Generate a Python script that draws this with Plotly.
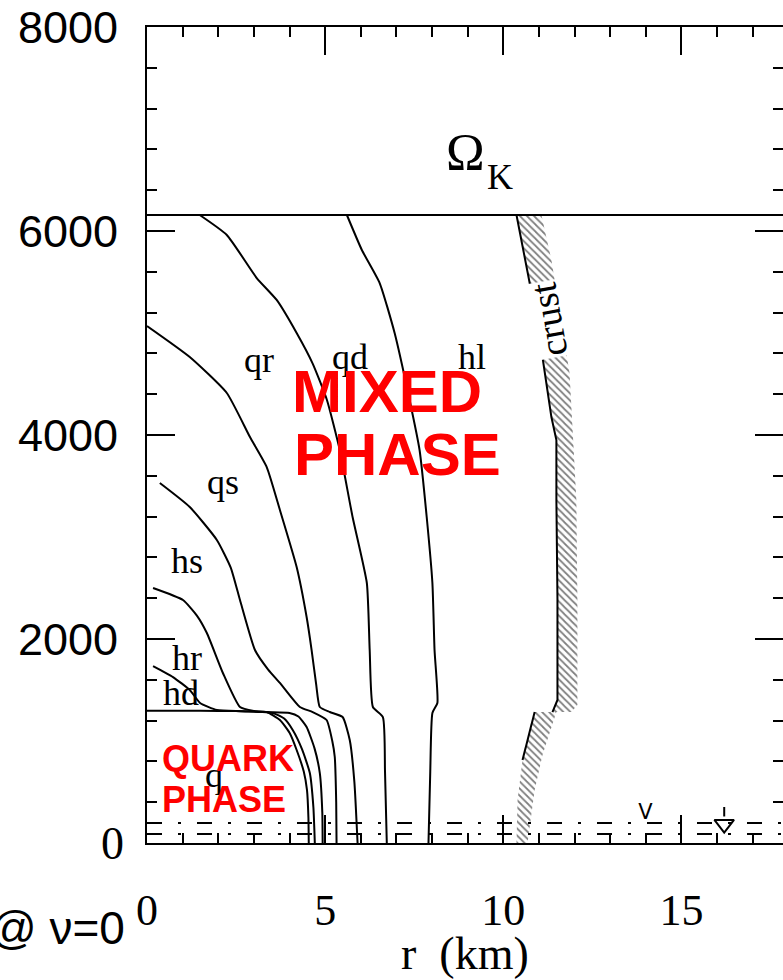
import plotly.graph_objects as go

# ---------------- data ----------------
x_ticks = [0, 5, 10, 15]
y_ticks = [0, 2000, 4000, 6000, 8000]
y_ticktext = ["", "2000", "4000", "6000", "8000"]
y_zero_tick = [0]

omega_k = 6157          # Keplerian frequency line
x_max = 17.85

# phase boundaries (r in km, frequency)
r_q = [0, 1.0, 2.0, 3.0, 3.36, 3.73, 4.0, 4.2, 4.4, 4.49, 4.53, 4.54]
f_q = [1297, 1297, 1295, 1290, 1284, 1206, 1080, 912, 700, 520, 250, 0]

r_hd = [0.17, 0.73, 1.2, 1.49, 1.96, 2.6, 3.2, 3.53, 3.85, 4.09, 4.35, 4.57, 4.67, 4.71]
f_hd = [1735, 1627, 1500, 1373, 1304, 1292, 1285, 1275, 1220, 1108, 920, 686, 350, 0]

r_hr = [0.17, 1.01, 1.4, 1.68, 2.13, 2.61, 3.0, 3.36, 4.0, 4.25, 4.48, 4.7, 4.85, 4.92, 4.93]
f_hr = [2500, 2382, 2230, 2059, 1667, 1333, 1295, 1284, 1275, 1240, 1137, 930, 686, 300, 0]

r_hs = [0.36, 1.2, 1.96, 2.35, 2.61, 3.03, 3.4, 3.73, 4.29, 4.65, 5.04, 5.2, 5.27, 5.31, 5.32]
f_hs = [3529, 3294, 2971, 2700, 2382, 1892, 1700, 1569, 1333, 1284, 1206, 1000, 843, 400, 0]

r_qs = [0, 1.2, 2.24, 2.89, 3.36, 3.73, 4.2, 4.48, 4.62, 4.75, 4.85, 5.13, 5.49, 5.69, 5.82, 5.91]
f_qs = [5069, 4765, 4412, 3980, 3686, 3265, 2706, 2216, 1892, 1550, 1333, 1284, 1235, 1010, 600, 0]

r_qr = [1.48, 2.24, 3.08, 3.64, 4.2, 4.65, 5.05, 5.41, 5.77, 6.17, 6.25, 6.34, 6.62, 6.68, 6.73]
f_qr = [6157, 5961, 5539, 5324, 5000, 4700, 4343, 3853, 3196, 2549, 1892, 1333, 1235, 700, 0]

r_qd = [5.61, 6.03, 6.53, 6.95, 7.37, 7.65, 7.85, 8.01, 8.07, 8.15, 8.01, 7.95, 7.90]
f_qd = [6157, 5814, 5490, 5000, 4343, 3853, 3196, 2549, 1892, 1373, 1275, 700, 0]

# crust band (upper and lower segments): left edge then right edge
crust_up_r_left = [10.37, 10.74, 11.07, 11.35, 11.49, 11.49, 11.52, 11.52, 11.38]
crust_up_f_left = [6157, 5490, 4833, 4176, 3951, 3363, 2382, 1402, 1284]
crust_up_r_right = [11.91, 12.08, 12.08, 12.05, 11.86, 11.35, 11.07]
crust_up_f_right = [1284, 1353, 2382, 3363, 4608, 5716, 6157]

crust_lo_r_left = [10.88, 10.54, 10.40, 10.37]
crust_lo_f_left = [1284, 814, 422, 0]
crust_lo_r_right = [10.68, 10.88, 11.10, 11.49]
crust_lo_f_right = [0, 520, 863, 1284]

# pulsar frequency lines and markers
pulsar_f = [196, 88]
mark_v_r, mark_v_f = [13.99], [290]
arrow_r, arrow_f = [16.2, 16.2], [353, 260]
arrow_head_r, arrow_head_f = [16.2], [185]

# region labels
region_text = ["qr", "qd", "hl", "qs", "hs", "hr", "hd", "q"]
region_r = [3.14, 5.69, 9.11, 2.13, 1.12, 1.12, 0.95, 1.88]
region_f = [4735, 4765, 4765, 3539, 2765, 1814, 1471, 667]

# ---------------- figure ----------------
fig = go.Figure()
line = dict(color="black", width=2)

# crust hatch
for rl, fl, rr, fr in [(crust_up_r_left, crust_up_f_left, crust_up_r_right, crust_up_f_right),
                       (crust_lo_r_left, crust_lo_f_left, crust_lo_r_right, crust_lo_f_right)]:
    fig.add_trace(go.Scatter(x=rl + rr, y=fl + fr, mode="lines", fill="toself",
                             line=dict(width=0, color="rgba(0,0,0,0)"),
                             fillcolor="white",
                             fillpattern=dict(shape="\\", fgcolor="black", bgcolor="white",
                                              size=5, solidity=0.35)))
fig.add_trace(go.Scatter(x=crust_up_r_left, y=crust_up_f_left, mode="lines", line=line))
fig.add_trace(go.Scatter(x=crust_lo_r_left[:2], y=crust_lo_f_left[:2], mode="lines", line=line))

for rr, ff in [(r_q, f_q), (r_hd, f_hd), (r_hr, f_hr), (r_hs, f_hs),
               (r_qs, f_qs), (r_qr, f_qr), (r_qd, f_qd)]:
    fig.add_trace(go.Scatter(x=rr, y=ff, mode="lines",
                             line=dict(color="black", width=2, shape="spline", smoothing=0.5)))

fig.add_trace(go.Scatter(x=[0, x_max], y=[omega_k, omega_k], mode="lines", line=line))

for pf in pulsar_f:
    fig.add_trace(go.Scatter(x=[0, x_max], y=[pf, pf], mode="lines",
                             line=dict(color="black", width=2, dash="15px,16px,3px,16px")))

fig.add_trace(go.Scatter(x=mark_v_r, y=mark_v_f, mode="text", text=["V"],
                         textfont=dict(family="DejaVu Sans", size=21, color="black")))
fig.add_trace(go.Scatter(x=arrow_r, y=arrow_f, mode="lines", line=dict(color="black", width=2)))
fig.add_trace(go.Scatter(x=arrow_head_r, y=arrow_head_f, mode="markers",
                         marker=dict(symbol="triangle-down-open", size=17,
                                     line=dict(color="black", width=2), color="black")))

# right-hand ticks without an axis line, and a serif "0" label on the left
fig.add_trace(go.Scatter(x=[None], y=[None], yaxis="y2", mode="lines"))
fig.add_trace(go.Scatter(x=[None], y=[None], yaxis="y3", mode="lines"))

annotations = []
for t, xr, yf in zip(region_text, region_r, region_f):
    annotations.append(dict(x=xr, y=yf, xref="x", yref="y", text=t, showarrow=False,
                            font=dict(family="Liberation Serif", size=36, color="black")))

annotations += [
    dict(x=8.94, y=6765, xref="x", yref="y", text="Ω", showarrow=False,
         font=dict(family="Liberation Serif", size=52, color="black")),
    dict(x=9.9, y=6530, xref="x", yref="y", text="K", showarrow=False,
         font=dict(family="Liberation Serif", size=36, color="black")),
    dict(x=11.27, y=5127, xref="x", yref="y", text="crust", showarrow=False, textangle=-100,
         bgcolor="white", font=dict(family="Liberation Serif", size=38, color="black")),
    dict(x=4.0, y=4431, xref="x", yref="y", text="<b>MIXED</b>", showarrow=False, xanchor="left",
         font=dict(family="Liberation Sans", size=60, color="#ff0000")),
    dict(x=4.06, y=3804, xref="x", yref="y", text="<b>PHASE</b>", showarrow=False, xanchor="left",
         font=dict(family="Liberation Sans", size=60, color="#ff0000")),
    dict(x=0.36, y=824, xref="x", yref="y", text="<b>QUARK</b>", showarrow=False, xanchor="left",
         font=dict(family="Liberation Sans", size=36, color="#ff0000")),
    dict(x=0.36, y=422, xref="x", yref="y", text="<b>PHASE</b>", showarrow=False, xanchor="left",
         font=dict(family="Liberation Sans", size=36, color="#ff0000")),
    dict(x=-0.031, y=-0.104, xref="paper", yref="paper", text="@ ν=0", showarrow=False,
         xanchor="right", yanchor="middle",
         font=dict(family="Liberation Sans", size=46, color="black")),
    dict(x=0.5, y=-0.135, xref="paper", yref="paper", text="r&nbsp;&nbsp;(km)", showarrow=False,
         xanchor="center", yanchor="middle",
         font=dict(family="Liberation Serif", size=46, color="black")),
]

minor_y = dict(ticks="inside", ticklen=10, tickwidth=2, tickcolor="black",
               dtick=400, tick0=0, showgrid=False)

fig.update_layout(
    width=783, height=980,
    margin=dict(l=147, r=0, t=27, b=137),
    plot_bgcolor="white", paper_bgcolor="white",
    showlegend=False,
    annotations=annotations,
    xaxis=dict(range=[0, x_max], showline=True, linewidth=2, linecolor="black",
               mirror="ticks", ticks="inside", ticklen=28, tickwidth=2, tickcolor="black",
               tickvals=x_ticks, ticktext=[str(v) for v in x_ticks],
               tickfont=dict(family="Liberation Serif", size=44, color="black"),
               ticklabelstandoff=27,
               minor=dict(ticks="inside", ticklen=10, tickwidth=2, tickcolor="black",
                          dtick=1, tick0=0, showgrid=False),
               showgrid=False, zeroline=False),
    yaxis=dict(range=[0, 8000], showline=True, linewidth=2, linecolor="black",
               ticks="inside", ticklen=28, tickwidth=2, tickcolor="black",
               tickvals=y_ticks, ticktext=y_ticktext,
               tickfont=dict(family="Liberation Sans", size=45, color="black"),
               ticklabelstandoff=18,
               minor=minor_y,
               showgrid=False, zeroline=False),
    yaxis2=dict(range=[0, 8000], overlaying="y", side="right", anchor="x",
                showline=False, ticks="inside", ticklen=28, tickwidth=2, tickcolor="black",
                tickvals=y_ticks, showticklabels=False,
                minor=minor_y,
                showgrid=False, zeroline=False),
    yaxis3=dict(range=[0, 8000], overlaying="y", side="left", anchor="x",
                showline=False, ticks="", tickvals=y_zero_tick, ticktext=["0"],
                tickfont=dict(family="Liberation Serif", size=46, color="black"),
                ticklabelstandoff=22,
                showgrid=False, zeroline=False),
)

fig.write_html("out.html")
